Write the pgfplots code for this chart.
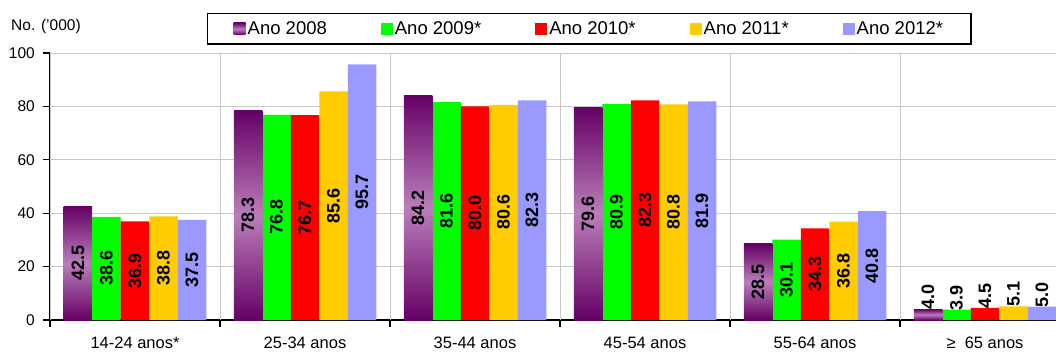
\documentclass[border=0pt]{standalone}
\usepackage{pgfplots}
\pgfplotsset{compat=1.18}
\usepackage{fontspec}
\setmainfont{Liberation Sans}
\definecolor{pdark}{RGB}{102,0,102}
\definecolor{plight}{RGB}{186,126,186}
\definecolor{c09}{RGB}{0,255,0}
\definecolor{c10}{RGB}{255,0,0}
\definecolor{c11}{RGB}{255,204,0}
\definecolor{c12}{RGB}{153,153,255}
\definecolor{gridc}{RGB}{200,200,200}
\begin{document}
\begin{tikzpicture}
\useasboundingbox (-50bp,-35bp) rectangle (1006bp,320bp);
\begin{axis}[
  x=170bp, y=2.67bp,
  xmin=-0.5, xmax=5.4176, ymin=0, ymax=100,
  axis lines*=left,
  axis line style={black, line width=1.6bp},
  ybar, bar width=28.5bp,
  /pgf/number format/assume math mode=true,
  tick align=outside,
  major tick length=7bp,
  ytick={0,20,...,100},
  ymajorgrids,
  grid style={gridc, line width=0.9bp},
  ytick style={black, line width=1.2bp},
  yticklabel style={font=\fontsize{15.5bp}{18bp}\selectfont, inner sep=0pt, xshift=-8bp},
  xtick={0,...,5},
  xtick style={draw=none},
  xticklabels={14-24 anos*, 25-34 anos, 35-44 anos, 45-54 anos, 55-64 anos, {≥\ \ 65 anos}},
  xticklabel style={font=\fontsize{16.5bp}{19bp}\selectfont, inner sep=0pt, yshift=-10bp},
  extra x ticks={-0.5,0.5,1.5,2.5,3.5,4.5},
  extra x tick labels={},
  extra x tick style={grid=major, xtick style={draw=black, line width=1.2bp}},
  nodes near coords={\pgfmathprintnumber[fixed,fixed zerofill,precision=1]{\pgfplotspointmeta}},
  visualization depends on={rawy \as \rawy},
  every node near coord/.append style={font=\fontsize{18bp}{20bp}\selectfont\bfseries, text=black, anchor=center, inner sep=0pt, yshift={ifthenelse(\rawy<10,12,-\rawy*1.335)*1bp}, rotate=90},
  legend columns=5,
  legend image code/.code={\path[#1, draw=none] (0bp,-6bp) rectangle (12bp,6bp);},
  legend style={at={(0.156,1.15)}, anchor=north west, draw=black, line width=1.5bp,
    font=\fontsize{18.5bp}{21bp}\selectfont, inner xsep=26bp, inner ysep=6bp,
    /tikz/every even column/.append style={column sep=52bp}},
  p08/.style={top color=pdark, bottom color=pdark, middle color=plight, draw=none, bar shift=-57bp},
]
\addplot[p08] coordinates {(0,42.5)};
\addplot[fill=c09, draw=none, bar shift=-28.5bp] coordinates {(0,38.6) (1,76.8) (2,81.6) (3,80.9) (4,30.1) (5,3.9)};
\addplot[fill=c10, draw=none, bar shift=0bp] coordinates {(0,36.9) (1,76.7) (2,80.0) (3,82.3) (4,34.3) (5,4.5)};
\addplot[fill=c11, draw=none, bar shift=28.5bp] coordinates {(0,38.8) (1,85.6) (2,80.6) (3,80.8) (4,36.8) (5,5.1)};
\addplot[fill=c12, draw=none, bar shift=57bp] coordinates {(0,37.5) (1,95.7) (2,82.3) (3,81.9) (4,40.8) (5,5.0)};
\addplot[p08, forget plot] coordinates {(1,78.3)};
\addplot[p08, forget plot] coordinates {(2,84.2)};
\addplot[p08, forget plot] coordinates {(3,79.6)};
\addplot[p08, forget plot] coordinates {(4,28.5)};
\addplot[p08, forget plot] coordinates {(5,4.0)};
\legend{Ano 2008, Ano 2009*, Ano 2010*, Ano 2011*, Ano 2012*}
\end{axis}
\node[anchor=base west, font=\fontsize{15.5bp}{18bp}\selectfont, inner sep=0pt] at (-39bp,289bp) {No. ('000)};
\end{tikzpicture}
\end{document}
